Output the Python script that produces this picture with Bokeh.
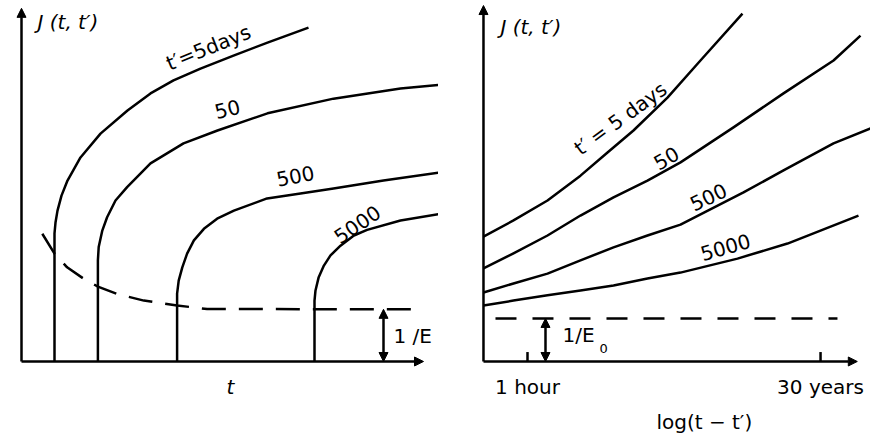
from bokeh.plotting import figure
from bokeh.layouts import row
from bokeh.models import Arrow, NormalHead, Range1d
from bokeh.core.properties import value
from bokeh.embed import file_html
from bokeh.resources import INLINE

# ---------------- data: left panel (J versus t, linear) ----------------
left_ages = ["t′=5days", "50", "500", "5000"]
left_t = [
    [8.25, 8.25, 8.5, 9.0, 10.0, 11.5, 14.75, 19.75, 26.5, 32.25, 38, 44.75, 53, 61.5, 71.75],
    [19.1, 19.1, 19.3, 20.2, 21.4, 23.5, 26.4, 32.25, 40.5, 49, 61.5, 78, 94.75, 104.75],
    [38.9, 38.9, 39.3, 40.2, 41.4, 43.1, 45.6, 48.9, 53.1, 61.4, 69.75, 78, 90.5, 104.75],
    [73.25, 73.25, 73.5, 74.3, 75.6, 77.25, 79.75, 83.1, 86.4, 94.75, 104.75],
]
left_J = [
    [0, 36.6, 39.7, 43.1, 47.4, 51.7, 58.3, 65.1, 71.7, 76.6, 80.3, 83.7, 87.4, 91.1, 95.4],
    [0, 28.9, 32.7, 37.4, 41.2, 46.0, 49.8, 56.6, 62.3, 66, 70.9, 75.1, 78, 79.1],
    [0, 19.4, 23.1, 26.9, 30.8, 34.6, 37.9, 40.8, 43.1, 46.6, 48, 49.4, 51.7, 54],
    [0, 17.4, 20.3, 24.1, 27.4, 30.3, 33.1, 36.0, 37.6, 40.3, 42.2],
]
left_dash_t = [5.2, 8.25, 11.4, 15.6, 19.1, 23.9, 30.6, 38.9, 46.4, 98.5]
left_dash_J = [36.5, 30.8, 26.9, 23.6, 21.4, 19.3, 17.4, 16.0, 15.0, 14.9]
inv_E = 14.9

# ---------------- data: right panel (J versus log10 of hours) ----------------
right_ages = ["t′ = 5 days", "50", "500", "5000"]
right_u = [
    [-0.814, -0.259, 0.370, 0.980, 1.480, 1.960, 2.589, 3.199, 3.976],
    [-0.814, -0.259, 0.370, 0.980, 1.591, 2.219, 2.830, 3.810, 4.735, 5.660, 6.159],
    [-0.814, -0.259, 0.370, 0.980, 1.591, 2.219, 2.830, 3.995, 4.735, 5.660, 6.344],
    [-0.814, -0.259, 0.370, 0.980, 1.591, 2.219, 2.830, 3.884, 4.809, 6.122],
]
right_J = [
    [35.7, 40.3, 46.0, 53.1, 59.7, 66.0, 75.4, 86.0, 99.4],
    [26.6, 30.9, 36.0, 41.7, 46.9, 51.7, 56.9, 66.9, 76.6, 86.0, 93.1],
    [19.7, 22.3, 25.1, 28.9, 32.6, 36.0, 39.1, 48.3, 54.6, 62.3, 66.6],
    [16.0, 17.4, 18.9, 20.3, 21.7, 23.7, 25.4, 29.4, 33.7, 41.7],
]
inv_E0 = 12.3
right_tick_labels = ["1 hour", "30 years"]
right_tick_u = [0.0, 5.42]   # log10(1 h), log10(30 yr in hours)

# ---------------- layout constants ----------------
H = 436
FONT = value("DejaVu Sans")
FS = value("20px")
LW = 2.5
ORIG_L = 0.0
ORIG_R = -0.814
L_XEND, L_YTOP = 100.5, 100.9
R_XEND, R_YTOP = 6.10, 101.7
Y_RANGE = (-21.43, 103.14)


def make_fig(w, xr, yr):
    p = figure(width=w, height=H, x_range=Range1d(*xr), y_range=Range1d(*yr),
               output_backend="svg", toolbar_location=None,
               x_axis_location=None, y_axis_location=None, min_border=0)
    p.grid.visible = False
    p.outline_line_color = None
    p.background_fill_color = "white"
    p.border_fill_color = "white"
    return p


def head():
    return NormalHead(size=9, fill_color="black", line_color="black", line_width=1)


def axes(p, x0, xend, ytop):
    p.add_layout(Arrow(end=head(), x_start=x0, y_start=0, x_end=x0, y_end=ytop,
                       line_width=LW, line_color="black"))
    p.add_layout(Arrow(end=head(), x_start=x0, y_start=0, x_end=xend, y_end=0,
                       line_width=LW, line_color="black"))


# ================= left panel =================
pl = make_fig(438, (-5.25, 104.25), Y_RANGE)
axes(pl, ORIG_L, L_XEND, L_YTOP)
for xs, ys in zip(left_t, left_J):
    pl.line(xs, ys, line_color="black", line_width=LW, line_join="round")
pl.line(left_dash_t, left_dash_J, line_color="black", line_width=LW, line_dash="24 13")
pl.add_layout(Arrow(start=head(), end=head(), x_start=90.5, y_start=0, x_end=90.5,
                    y_end=inv_E, line_width=LW, line_color="black"))
pl.text(x=[93], y=[7.2], text=["1 /E"], text_font=FONT, text_font_size=FS,
        text_align="left", text_baseline="middle", text_color="black")
pl.text(x=[4], y=[96.9], text=["J (t, t′)"], text_font=FONT, text_font_size=FS,
        text_font_style="italic", text_align="left", text_baseline="middle")
pl.text(x=[52.25], y=[-7.4], text=["t"], text_font=FONT, text_font_size=FS,
        text_font_style="italic", text_align="center", text_baseline="middle")
pl.text(x=[46.75, 51.5, 68.5, 84.0], y=[89.7, 72.0, 52.9, 39.1], text=left_ages,
        angle=[22, 14, 11, 34], angle_units="deg", text_font=FONT, text_font_size=FS,
        text_align="center", text_baseline="middle", text_color="black")

# ================= right panel =================
pr = make_fig(432, (-1.646, 6.344), Y_RANGE)
axes(pr, ORIG_R, R_XEND, R_YTOP)
for xs, ys in zip(right_u, right_J):
    pr.line(xs, ys, line_color="black", line_width=LW, line_join="round")
pr.line([-0.592, 5.733], [inv_E0, inv_E0], line_color="black", line_width=LW,
        line_dash="21 16")
pr.add_layout(Arrow(start=head(), end=head(), x_start=0.333, y_start=0, x_end=0.333,
                    y_end=inv_E0, line_width=LW, line_color="black"))
pr.segment(x0=right_tick_u, y0=[0, 0], x1=right_tick_u, y1=[2.7, 2.7],
           line_color="black", line_width=LW)
pr.text(x=right_tick_u, y=[-7.4, -7.4], text=right_tick_labels, text_font=FONT,
        text_font_size=FS, text_align="center", text_baseline="middle")
pr.text(x=[0.647], y=[7.7], text=["1/E"], text_font=FONT, text_font_size=FS,
        text_align="left", text_baseline="middle")
pr.text(x=[1.33], y=[3.6], text=["0"], text_font=FONT, text_font_size=value("13px"),
        text_align="left", text_baseline="middle")
pr.text(x=[-0.5], y=[95.7], text=["J (t, t′)"], text_font=FONT, text_font_size=FS,
        text_font_style="italic", text_align="left", text_baseline="middle")
pr.text(x=[3.27], y=[-17.4], text=["log(t − t′)"], text_font=FONT, text_font_size=FS,
        text_align="center", text_baseline="middle")
pr.text(x=[1.72, 2.571, 3.348, 3.662], y=[69.4, 58.0, 46.9, 32.6], text=right_ages,
        angle=[36, 30, 25, 16], angle_units="deg", text_font=FONT, text_font_size=FS,
        text_align="center", text_baseline="middle")

layout = row(pl, pr, spacing=0)
open("out.html", "w").write(file_html(layout, INLINE))
